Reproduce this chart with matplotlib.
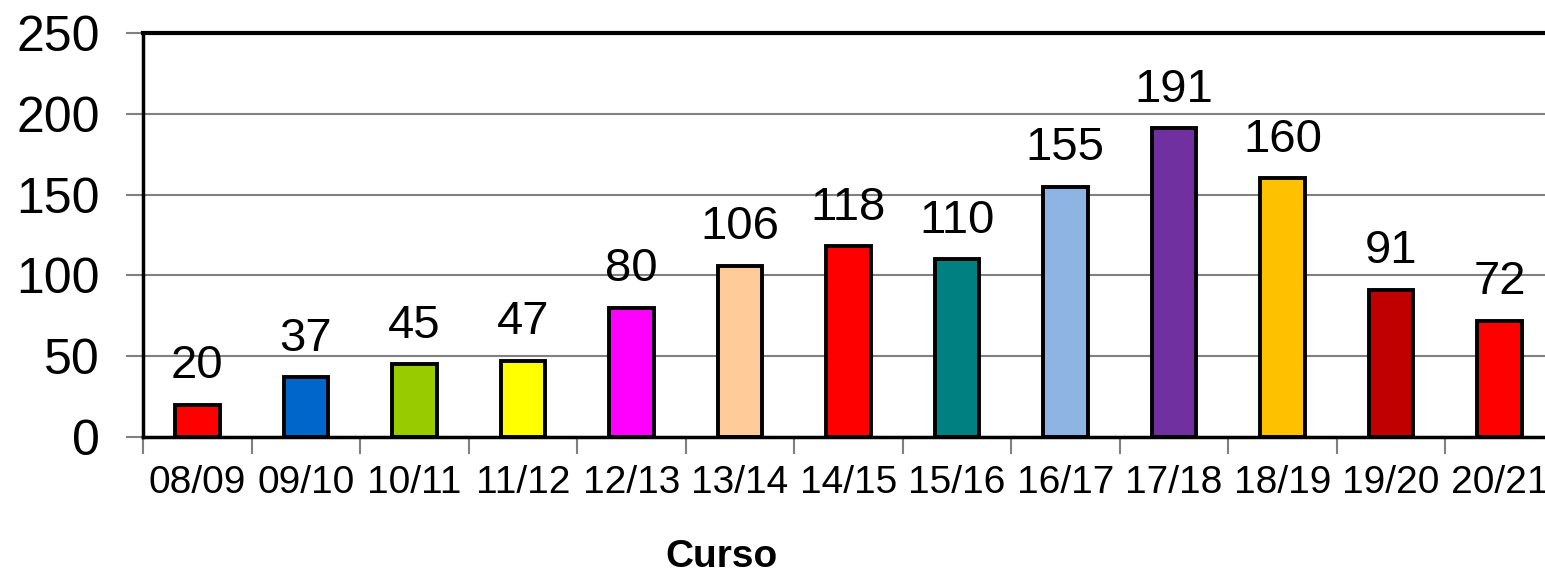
import matplotlib
matplotlib.use('Agg')
import matplotlib.pyplot as plt
import numpy as np

# data
cursos = ["08/09", "09/10", "10/11", "11/12", "12/13", "13/14", "14/15",
          "15/16", "16/17", "17/18", "18/19", "19/20", "20/21"]
alumnos = [20, 37, 45, 47, 80, 106, 118, 110, 155, 191, 160, 91, 72]
colores = ["#FF0000", "#0066CC", "#99CC00", "#FFFF00", "#FF00FF", "#FFCC99",
           "#FF0000", "#008080", "#8EB4E3", "#7030A0", "#FFC000", "#C00000",
           "#FF0000"]

plt.rcParams["font.family"] = ["Liberation Sans", "DejaVu Sans"]

fig = plt.figure(figsize=(15.45, 5.77), dpi=100)
ax = fig.add_axes([0.0926, 0.2426, 0.913, 0.7002])

x = np.arange(len(cursos))
bars = ax.bar(x, alumnos, 0.41, color=colores, edgecolor="black",
              linewidth=2.8, zorder=3)

# value labels on top of each bar
for b, v in zip(bars, alumnos):
    ax.annotate(str(v), (b.get_x() + b.get_width() / 2, v),
                xytext=(0, 12), textcoords="offset points",
                ha="center", va="bottom", fontsize=34)

ax.set_xlim(-0.5, len(cursos) - 0.5)
ax.set_ylim(0, 250)
ax.set_yticks(range(0, 251, 50))
ax.tick_params(axis="y", labelsize=36, length=12, width=1.5,
               color="#808080", pad=19)
ax.yaxis.grid(True, color="#808080", linewidth=1.5, zorder=0)
ax.set_axisbelow(True)

# category labels centered, tick marks between categories
ax.set_xticks(x)
ax.set_xticklabels(cursos, fontsize=28)
ax.set_xticks(np.arange(-0.5, len(cursos), 1), minor=True)
ax.tick_params(axis="x", which="major", length=0, pad=20)
ax.tick_params(axis="x", which="minor", length=12, width=1.5, color="#808080")

ax.spines["right"].set_visible(False)
ax.spines["left"].set_linewidth(2.5)
ax.spines["bottom"].set_linewidth(2.5)
ax.spines["top"].set_linewidth(3)
for s in ax.spines.values():
    s.set_zorder(4)

ax.set_xlabel("Curso", fontsize=28, fontweight="bold")
ax.xaxis.label.set_va("center")
ax.xaxis.set_label_coords(0.41, -0.297)

fig.savefig("out.png", dpi=100)
